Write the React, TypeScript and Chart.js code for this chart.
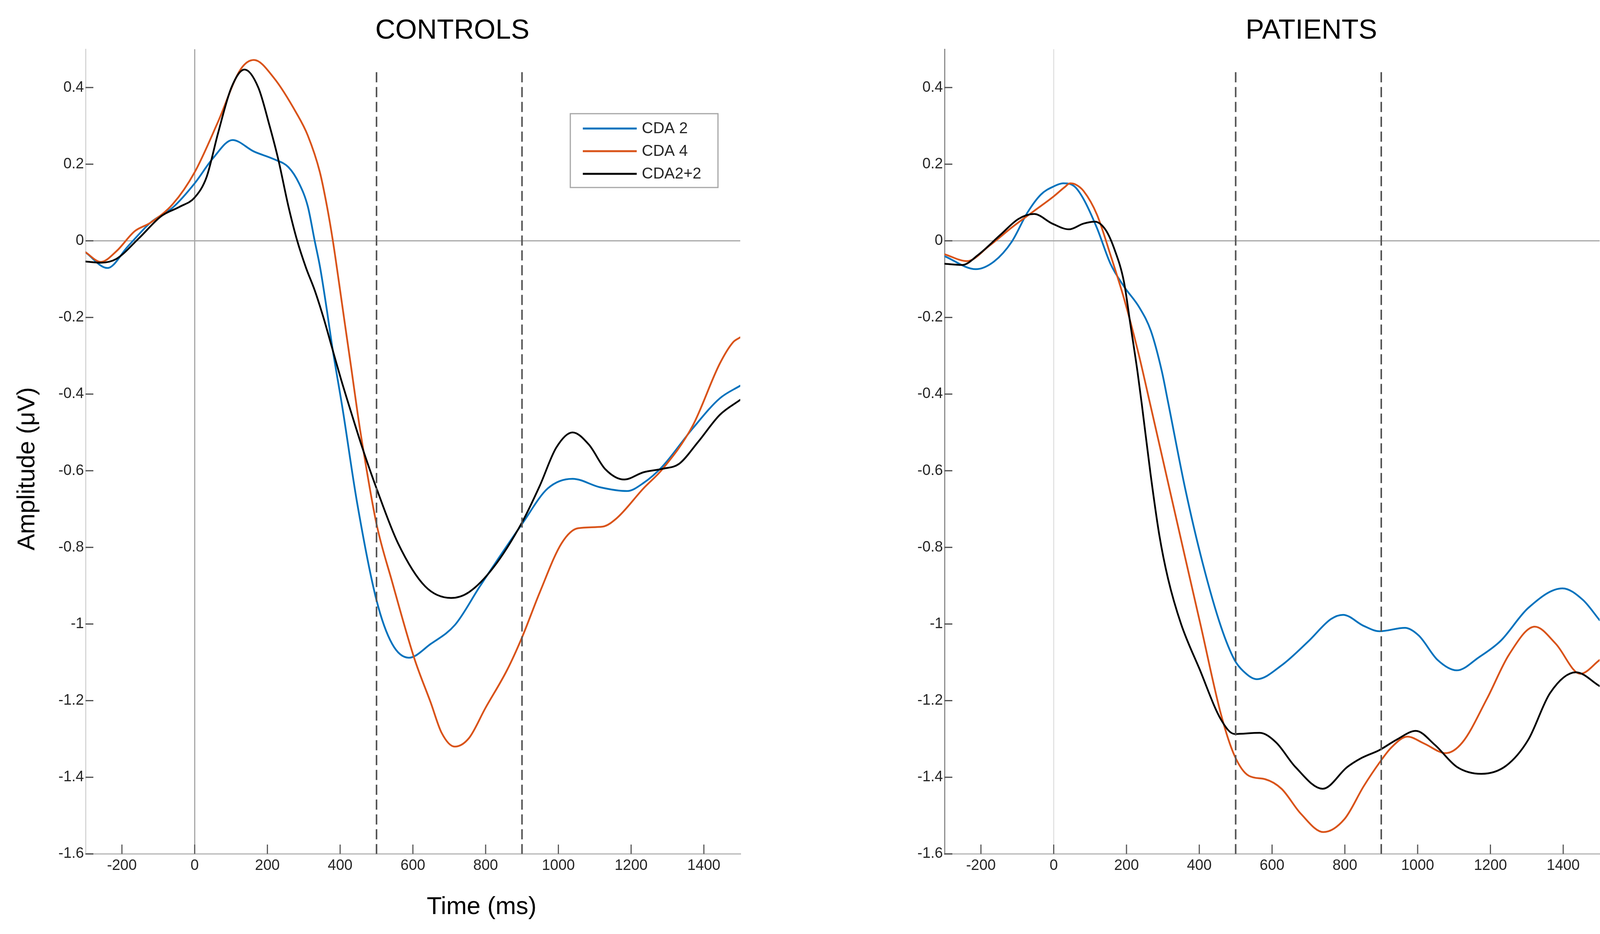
import { useEffect, useRef } from 'react';
import { Chart, registerables } from 'chart.js';

Chart.register(...registerables);

// ---- CONTROLS ----
const controlsCda2Time = [-300, -240, -184, -122, -60, 0, 50, 104, 163, 218, 258, 287, 311, 330, 345, 364, 378, 407, 446, 500, 543, 589, 649, 716, 784, 821, 900, 971, 1039, 1114, 1189, 1234, 1286, 1369, 1444, 1500];
const controlsCda2 = [-0.03, -0.071, -0.015, 0.047, 0.087, 0.15, 0.215, 0.263, 0.233, 0.213, 0.192, 0.15, 0.09, 0.0, -0.07, -0.184, -0.275, -0.44, -0.68, -0.938, -1.052, -1.088, -1.052, -1.002, -0.902, -0.849, -0.739, -0.646, -0.621, -0.643, -0.653, -0.632, -0.589, -0.49, -0.411, -0.378];

const controlsCda4Time = [-300, -258, -215, -165, -122, -60, 0, 64, 126, 163, 218, 280, 311, 344, 364, 380, 397, 412, 431, 448, 461, 500, 543, 604, 649, 679, 715, 754, 799, 859, 900, 949, 1009, 1054, 1121, 1159, 1234, 1286, 1369, 1444, 1480, 1500];
const controlsCda4 = [-0.03, -0.055, -0.027, 0.025, 0.047, 0.096, 0.179, 0.31, 0.447, 0.472, 0.425, 0.333, 0.275, 0.18, 0.089, 0.0, -0.11, -0.21, -0.335, -0.45, -0.53, -0.739, -0.89, -1.09, -1.205, -1.284, -1.32, -1.298, -1.22, -1.12, -1.035, -0.917, -0.789, -0.75, -0.746, -0.725, -0.646, -0.596, -0.483, -0.32, -0.265, -0.252];

const controlsCda22Time = [-300, -258, -215, -153, -91, -41, 0, 33, 64, 101, 137, 175, 206, 230, 258, 282, 306, 330, 354, 378, 402, 431, 461, 500, 559, 634, 705, 754, 821, 900, 949, 994, 1039, 1084, 1129, 1181, 1234, 1286, 1332, 1384, 1444, 1500];
const controlsCda22 = [-0.054, -0.057, -0.047, 0.007, 0.065, 0.089, 0.113, 0.167, 0.28, 0.4, 0.447, 0.4, 0.3, 0.212, 0.089, 0.0, -0.07, -0.129, -0.2, -0.28, -0.36, -0.45, -0.54, -0.646, -0.789, -0.902, -0.932, -0.917, -0.853, -0.735, -0.639, -0.54, -0.5, -0.532, -0.596, -0.623, -0.604, -0.595, -0.582, -0.525, -0.454, -0.415];

// ---- PATIENTS ----
const patientsCda2Time = [-300, -214, -164, -115, -72, -35, 0, 26, 57, 82, 119, 156, 193, 236, 267, 297, 314, 362, 409, 460, 497, 521, 558, 626, 701, 762, 795, 852, 895, 965, 1003, 1055, 1108, 1168, 1228, 1304, 1398, 1454, 1500];
const patientsCda2 = [-0.04, -0.074, -0.054, -0.002, 0.074, 0.121, 0.142, 0.15, 0.142, 0.109, 0.033, -0.06, -0.119, -0.175, -0.235, -0.34, -0.42, -0.65, -0.84, -1.008, -1.094, -1.123, -1.144, -1.108, -1.044, -0.987, -0.976, -1.005, -1.019, -1.01, -1.03, -1.094, -1.121, -1.087, -1.044, -0.958, -0.907, -0.937, -0.99];

const patientsCda4Time = [-300, -238, -177, -115, -54, 0, 30, 45, 60, 82, 119, 156, 193, 232, 266, 314, 362, 403, 460, 497, 536, 581, 626, 679, 741, 799, 852, 895, 927, 972, 1018, 1077, 1123, 1191, 1251, 1322, 1379, 1447, 1500];
const patientsCda4 = [-0.035, -0.053, -0.013, 0.035, 0.078, 0.116, 0.14, 0.15, 0.147, 0.13, 0.068, -0.037, -0.15, -0.29, -0.43, -0.63, -0.83, -1.0, -1.237, -1.344, -1.396, -1.405, -1.43, -1.495, -1.543, -1.509, -1.423, -1.362, -1.323, -1.294, -1.312, -1.337, -1.309, -1.194, -1.08, -1.007, -1.051, -1.13, -1.094];

const patientsCda22Time = [-300, -251, -208, -146, -97, -54, -4, 42, 82, 113, 143, 168, 193, 211, 230, 242, 266, 290, 314, 350, 400, 460, 497, 566, 611, 664, 739, 807, 845, 895, 942, 995, 1048, 1108, 1175, 1243, 1304, 1364, 1435, 1500];
const patientsCda22 = [-0.06, -0.063, -0.037, 0.016, 0.057, 0.07, 0.045, 0.03, 0.045, 0.05, 0.028, -0.025, -0.107, -0.22, -0.34, -0.426, -0.608, -0.767, -0.881, -1.0, -1.116, -1.25, -1.287, -1.284, -1.309, -1.373, -1.43, -1.373, -1.35, -1.329, -1.302, -1.279, -1.316, -1.373, -1.391, -1.37, -1.302, -1.18, -1.126, -1.162];

const seriesLabels = ['CDA 2', 'CDA 4', 'CDA2+2'];
const seriesColors = ['#0072BD', '#D95319', '#000000'];

const xTickValues = [-200, 0, 200, 400, 600, 800, 1000, 1200, 1400];
const yTickValues = [-1.6, -1.4, -1.2, -1, -0.8, -0.6, -0.4, -0.2, 0, 0.2, 0.4];

// analysis window (dashed lines)
const windowTimes = [500, 900];
const windowTop = 0.44;

const FONT = '"Liberation Sans", Arial, Helvetica, sans-serif';
const W = 2054;
const H = 2391;

function toPoints(t: number[], v: number[]) {
  return t.map((x, i) => ({ x, y: v[i] }));
}

interface PanelProps {
  title: string;
  titleX: number;
  left: number;
  padLeft: number;
  padRight: number;
  times: number[][];
  values: number[][];
  yBorderColor: string;
  zeroXColor: string;
  withLegend: boolean;
  withAxisTitles: boolean;
}

function ErpPanel(props: PanelProps) {
  const canvasRef = useRef<HTMLCanvasElement>(null);

  useEffect(() => {
    if (!canvasRef.current) return;
    const ctx = canvasRef.current.getContext('2d');
    if (!ctx) return;

    const decor = {
      id: 'erpDecor',
      afterDatasetsDraw(chart: any) {
        const c = chart.ctx;
        const area = chart.chartArea;
        const xs = chart.scales.x;
        const ys = chart.scales.y;
        c.save();
        // inward tick marks, MATLAB style
        c.lineWidth = 3;
        c.strokeStyle = '#4a4a4a';
        yTickValues.forEach((v) => {
          const py = ys.getPixelForValue(v);
          c.beginPath();
          c.moveTo(area.left, py);
          c.lineTo(area.left + 20, py);
          c.stroke();
        });
        c.strokeStyle = '#5a5a5a';
        xTickValues.forEach((v) => {
          const px = xs.getPixelForValue(v);
          c.beginPath();
          c.moveTo(px, area.bottom);
          c.lineTo(px, area.bottom - 24);
          c.stroke();
        });

        if (props.withLegend) {
          const bx = area.left + 1241;
          const by = area.top + 165;
          c.fillStyle = '#ffffff';
          c.fillRect(bx, by, 378, 189);
          c.strokeStyle = '#a6a6a6';
          c.lineWidth = 3;
          c.strokeRect(bx, by, 378, 189);
          c.font = `40px ${FONT}`;
          c.textBaseline = 'middle';
          c.textAlign = 'left';
          seriesLabels.forEach((label, i) => {
            const ry = by + 38 + i * 58;
            c.strokeStyle = seriesColors[i];
            c.lineWidth = 5;
            c.beginPath();
            c.moveTo(bx + 32, ry);
            c.lineTo(bx + 170, ry);
            c.stroke();
            c.fillStyle = '#262626';
            c.fillText(label, bx + 183, ry + 1);
          });
        }
        c.restore();
      },
      afterDraw(chart: any) {
        const c = chart.ctx;
        c.save();
        c.fillStyle = '#000000';
        c.textAlign = 'center';
        c.textBaseline = 'middle';
        c.font = `71px ${FONT}`;
        c.fillText(props.title, props.titleX, 79);
        if (props.withAxisTitles) {
          c.font = `63px ${FONT}`;
          c.fillText('Time (ms)', 1233, 2323);
          c.translate(71, 1200);
          c.rotate(-Math.PI / 2);
          c.fillText('Amplitude (μV)', 0, 0);
        }
        c.restore();
      },
    };

    const curves = props.values.map((vals, i) => ({
      label: seriesLabels[i],
      data: toPoints(props.times[i], vals),
      borderColor: seriesColors[i],
      borderWidth: 4.5,
      pointRadius: 0,
      cubicInterpolationMode: 'monotone' as const,
      borderJoinStyle: 'round' as const,
      borderCapStyle: 'round' as const,
      order: 3 - i,
    }));

    const windowLines = windowTimes.map((t) => ({
      label: 'window',
      data: [
        { x: t, y: windowTop },
        { x: t, y: -1.6 },
      ],
      borderColor: '#545454',
      borderWidth: 4,
      borderDash: [26, 12],
      pointRadius: 0,
      tension: 0,
      order: 0,
    }));

    const chart = new Chart(ctx, {
      type: 'line',
      data: { datasets: [...curves, ...windowLines] as any },
      plugins: [decor],
      options: {
        animation: false,
        responsive: false,
        devicePixelRatio: 1,
        layout: {
          padding: { left: props.padLeft, right: props.padRight, top: 126, bottom: 105 },
        },
        plugins: {
          legend: { display: false },
          tooltip: { enabled: false },
        },
        scales: {
          x: {
            type: 'linear',
            min: -300,
            max: 1500,
            afterBuildTicks: (s: any) => {
              s.ticks = xTickValues.map((value) => ({ value }));
            },
            afterFit: (s: any) => {
              s.height = 100;
            },
            grid: {
              drawTicks: false,
              lineWidth: 3,
              color: (c: any) => (c.tick && c.tick.value === 0 ? props.zeroXColor : 'rgba(0,0,0,0)'),
            },
            border: { display: true, color: '#c4c4c4', width: 4 },
            ticks: {
              padding: 8,
              color: '#262626',
              font: { family: FONT, size: 38 },
              maxRotation: 0,
              autoSkip: false,
              callback: (v: any) => String(v),
            },
          },
          y: {
            type: 'linear',
            min: -1.6,
            max: 0.5,
            afterBuildTicks: (s: any) => {
              s.ticks = yTickValues.map((value) => ({ value }));
            },
            afterFit: (s: any) => {
              s.width = 100;
            },
            grid: {
              drawTicks: false,
              lineWidth: 3,
              color: (c: any) => (c.tick && c.tick.value === 0 ? '#a8a8a8' : 'rgba(0,0,0,0)'),
            },
            border: { display: true, color: props.yBorderColor, width: 3 },
            ticks: {
              padding: 4,
              color: '#262626',
              font: { family: FONT, size: 38 },
              autoSkip: false,
              callback: (v: any) => Number(v).toFixed(1).replace(/\.0$/, '').replace(/^-0$/, '0'),
            },
          },
        },
      },
    });

    return () => {
      chart.destroy();
    };
  }, [props]);

  return (
    <canvas
      ref={canvasRef}
      width={W}
      height={H}
      style={{ position: 'absolute', left: props.left, top: 0, width: W, height: H }}
    />
  );
}

const controlsProps: PanelProps = {
  title: 'CONTROLS',
  titleX: 1158,
  left: 0,
  padLeft: 119,
  padRight: 159,
  times: [controlsCda2Time, controlsCda4Time, controlsCda22Time],
  values: [controlsCda2, controlsCda4, controlsCda22],
  yBorderColor: '#d6d6d6',
  zeroXColor: '#a8a8a8',
  withLegend: true,
  withAxisTitles: true,
};

const patientsProps: PanelProps = {
  title: 'PATIENTS',
  titleX: 1303,
  left: W,
  padLeft: 264,
  padRight: 13,
  times: [patientsCda2Time, patientsCda4Time, patientsCda22Time],
  values: [patientsCda2, patientsCda4, patientsCda22],
  yBorderColor: '#8c8c8c',
  zeroXColor: '#e3e3e3',
  withLegend: false,
  withAxisTitles: false,
};

export default function App() {
  useEffect(() => {
    document.body.style.margin = '0';
  }, []);

  return (
    <div style={{ position: 'relative', width: 4108, height: 2391, background: '#ffffff', overflow: 'hidden' }}>
      <ErpPanel {...controlsProps} />
      <ErpPanel {...patientsProps} />
    </div>
  );
}
